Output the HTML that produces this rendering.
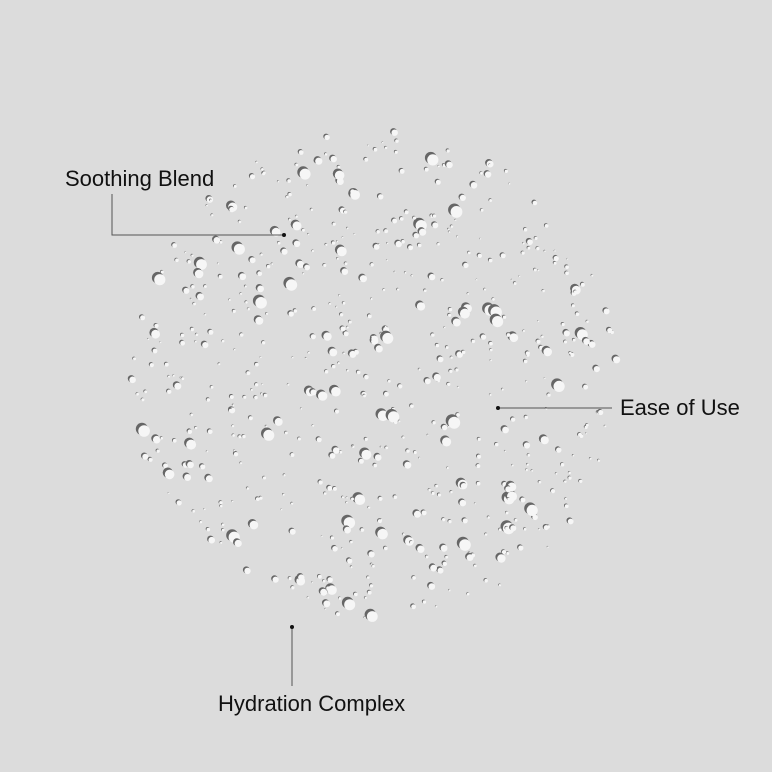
<!DOCTYPE html>
<html><head><style>
html,body{margin:0;padding:0;background:#dcdcdc;width:772px;height:772px;overflow:hidden}
svg{display:block}
text{font-family:"Liberation Sans",sans-serif;font-size:22px;fill:#111}
</style></head><body>
<svg id="s" width="772" height="772" viewBox="0 0 772 772">
<rect width="772" height="772" fill="#dcdcdc"/>
<g id="d"></g>
<polyline points="112,194 112,235 284,235" fill="none" stroke="#555" stroke-width="1"/>
<circle cx="284" cy="235" r="2" fill="#111"/>
<line x1="498" y1="408" x2="612" y2="408" stroke="#555" stroke-width="1"/>
<circle cx="498" cy="408" r="2" fill="#111"/>
<line x1="292" y1="627" x2="292" y2="686" stroke="#555" stroke-width="1"/>
<circle cx="292" cy="627" r="2" fill="#111"/>
<text x="65" y="186">Soothing Blend</text>
<text x="620" y="415">Ease of Use</text>
<text x="218" y="711">Hydration Complex</text>
</svg>
<script>
var seed=12345;function rnd(){seed=(seed*1103515245+12345)%2147483648;return seed/2147483648;}
var g=document.getElementById('d'),h='';
for(var i=0;i<620;i++){
  var a=rnd()*Math.PI*2,rr=Math.sqrt(rnd())*245;
  var x=376+Math.cos(a)*rr,y=376+Math.sin(a)*rr;
  var u=rnd(),r=u<0.6?0.8+rnd()*1.2:(u<0.9?2+rnd()*1.8:3.8+rnd()*2.5);
  h+='<circle cx="'+(x-r*0.25).toFixed(1)+'" cy="'+(y-r*0.25).toFixed(1)+'" r="'+r.toFixed(1)+'" fill="#666"/>';
  h+='<circle cx="'+(x+r*0.1).toFixed(1)+'" cy="'+(y+r*0.1).toFixed(1)+'" r="'+(r*0.95).toFixed(1)+'" fill="#f6f6f6"/>';
}
g.innerHTML=h;
</script>
</body></html>
